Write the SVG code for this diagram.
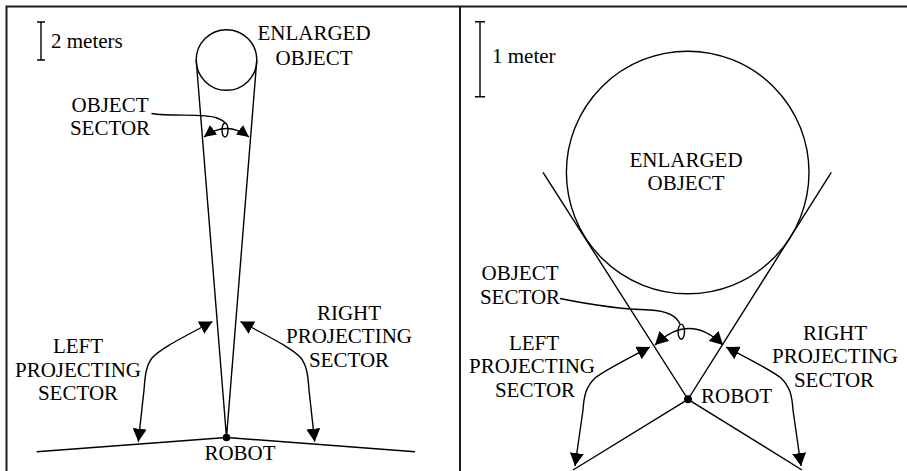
<svg xmlns="http://www.w3.org/2000/svg" width="907" height="471" viewBox="0 0 907 471">
  <style>
    .ln { fill: none; stroke: #000; stroke-width: 1.4; }
    .frame { fill: none; stroke: #1a1a1a; stroke-width: 2; }
    .lbl { font-family: 'Liberation Serif', 'Times New Roman', serif; font-size: 21px; fill: #000; }
    .mid { text-anchor: middle; }
    .arr { fill: none; stroke: #000; stroke-width: 1.4; marker-start: url(#head); marker-end: url(#head); }
    .arrs { fill: none; stroke: #000; stroke-width: 1.4; marker-start: url(#headS); marker-end: url(#headS); }
  </style>
  <defs>
    <marker id="head" viewBox="0 0 13 14" refX="13" refY="7" markerWidth="13" markerHeight="14" markerUnits="userSpaceOnUse" orient="auto-start-reverse">
      <path d="M0,0 L13,7 L0,14 z" fill="#000"/>
    </marker>
    <marker id="headS" viewBox="0 0 12 12" refX="12" refY="6" markerWidth="12" markerHeight="12" markerUnits="userSpaceOnUse" orient="auto-start-reverse">
      <path d="M0,0 L12,6 L0,12 z" fill="#000"/>
    </marker>
  </defs>
  <rect width="907" height="471" fill="#fff"/>

  <!-- outer frame and panel divider -->
  <g id="frame">
    <path class="frame" d="M6.5,471 V6.5 H907"/>
    <path class="frame" d="M460,6.5 V471"/>
  </g>

  <!-- ===== left panel: distant object ===== -->
  <g id="scale-left">
    <path class="ln" d="M41,22 V60 M37,22 H45 M37,60 H45"/>
    <text class="lbl" x="51" y="48">2 meters</text>
  </g>
  <g id="object-left">
    <circle class="ln" cx="226.5" cy="60" r="30.3"/>
    <text class="lbl mid" x="314" y="40">ENLARGED</text>
    <text class="lbl mid" x="314" y="65">OBJECT</text>
  </g>
  <g id="robot-left">
    <circle cx="226.5" cy="437.5" r="3.8" fill="#000"/>
    <text class="lbl mid" x="240" y="460">ROBOT</text>
  </g>
  <g id="object-sector-left">
    <text class="lbl mid" x="110" y="111.5">OBJECT</text>
    <text class="lbl mid" x="110" y="135">SECTOR</text>
    <ellipse class="ln" cx="225" cy="130" rx="3" ry="7"/>
  </g>
  <g id="left-sector-left">
    <text class="lbl mid" x="78" y="353">LEFT</text>
    <text class="lbl mid" x="78" y="376.7">PROJECTING</text>
    <text class="lbl mid" x="78" y="400">SECTOR</text>
  </g>
  <g id="right-sector-left">
    <text class="lbl mid" x="349" y="320">RIGHT</text>
    <text class="lbl mid" x="349" y="342.7">PROJECTING</text>
    <text class="lbl mid" x="349" y="366.7">SECTOR</text>
  </g>

  <!-- ===== right panel: nearby object ===== -->
  <g id="scale-right">
    <path class="ln" d="M480,21.7 V96.7 M475,21.7 H485 M475,96.7 H485"/>
    <text class="lbl" x="492" y="63.3">1 meter</text>
  </g>
  <g id="object-right">
    <circle class="ln" cx="687.7" cy="172.5" r="121.3"/>
    <text class="lbl mid" x="686" y="166.7">ENLARGED</text>
    <text class="lbl mid" x="686" y="190">OBJECT</text>
  </g>
  <g id="robot-right">
    <circle cx="688" cy="399.3" r="4" fill="#000"/>
    <text class="lbl" x="701" y="402.7">ROBOT</text>
  </g>
  <g id="object-sector-right">
    <text class="lbl mid" x="520" y="280">OBJECT</text>
    <text class="lbl mid" x="520" y="304">SECTOR</text>
    <ellipse class="ln" cx="681.3" cy="331.7" rx="3.2" ry="7.6"/>
  </g>
  <g id="left-sector-right">
    <text class="lbl mid" x="534" y="350">LEFT</text>
    <text class="lbl mid" x="532" y="373.3">PROJECTING</text>
    <text class="lbl mid" x="535" y="396.7">SECTOR</text>
  </g>
  <g id="right-sector-right">
    <text class="lbl mid" x="835" y="340">RIGHT</text>
    <text class="lbl mid" x="835" y="363.3">PROJECTING</text>
    <text class="lbl mid" x="834" y="386.7">SECTOR</text>
  </g>

  <!-- sector boundaries, leaders and sector arrows -->
  <g id="connectors">
    <!-- left panel: tangent rays and side boundaries -->
    <path class="ln" d="M196.2,60 L226.5,437.5 L256.8,60"/>
    <path class="ln" d="M36.7,451.7 L226.5,437.5 L415,451.7"/>
    <path class="ln" d="M151.5,113.5 C172,117 204,113 217,118 C222,120 224.5,122 225,123"/>
    <path class="arrs" d="M204,137 Q226.5,120 249,137"/>
    <path class="arr" d="M212.5,321.5 C182,338 161,348 152,358 C146,366 145,376 144,390 L138.3,441.7"/>
    <path class="arr" d="M240.5,321.5 C271,338 292,348 301,358 C307,366 308,376 309,390 L314.7,441.7"/>

    <!-- right panel: tangent rays and side boundaries -->
    <path class="ln" d="M543,172.3 L688,399.3 L831.3,172.3"/>
    <path class="ln" d="M573,470 L688,399.3 L802,470"/>
    <path class="ln" d="M560,298.5 C582,303 612,309 650,310 C668,311 677,317 680,324.2"/>
    <path class="arr" d="M655,345 Q689,312 723,345"/>
    <path class="arr" d="M650,347 C625,360 605,370 595,378 C586,387 584,395 583,410 L575,466"/>
    <path class="arr" d="M726,347 C751,360 771,370 781,378 C790,387 792,395 793,410 L801,466"/>
  </g>
</svg>
